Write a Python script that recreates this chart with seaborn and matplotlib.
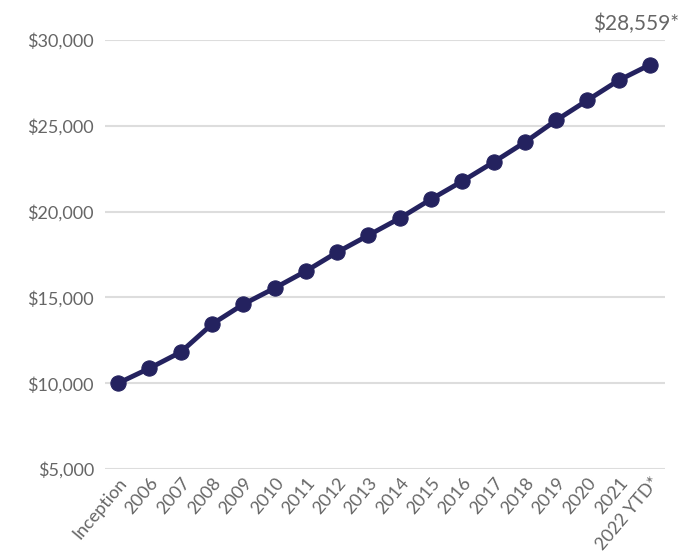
import matplotlib.pyplot as plt
import pandas as pd
import seaborn as sns

# Growth of $10,000 since inception
periods = ["Inception", "2006", "2007", "2008", "2009", "2010", "2011", "2012",
           "2013", "2014", "2015", "2016", "2017", "2018", "2019", "2020",
           "2021", "2022 YTD*"]
values = [10000, 10870, 11810, 13440, 14600, 15540, 16530, 17630, 18620,
          19610, 20720, 21770, 22880, 24040, 25320, 26490, 27650, 28559]
y_ticks = [5000, 10000, 15000, 20000, 25000, 30000]

LINE_COLOR = "#24225f"
TEXT_COLOR = "#666666"

sns.set_style("white")
plt.rcParams["font.family"] = ["Lato", "DejaVu Sans"]

df = pd.DataFrame({"period": periods, "value": values})
df["pos"] = range(len(df))

fig = plt.figure(figsize=(6.8, 5.53), dpi=100)
ax = fig.add_axes([105 / 680, 1 - 469 / 553, 560 / 680, 429 / 553])

sns.lineplot(data=df, x="pos", y="value", ax=ax, color=LINE_COLOR,
             linewidth=3.5, marker="o", markersize=11,
             markeredgecolor=LINE_COLOR, zorder=3)

ax.set_xlim(-0.42, len(df) - 1 + 0.48)
ax.set_ylim(5000, 30000)
ax.set_yticks(y_ticks)
ax.set_yticklabels([f"${v:,.0f}" for v in y_ticks], fontsize=13,
                   color=TEXT_COLOR)
ax.set_xticks(df["pos"])
ax.set_xticklabels(df["period"], rotation=50, ha="right",
                   rotation_mode="anchor", fontsize=13, color=TEXT_COLOR)
ax.tick_params(axis="both", length=0, pad=8)
ax.tick_params(axis="x", pad=4)
ax.set_xlabel("")
ax.set_ylabel("")

ax.yaxis.grid(True, color="#dddddd", linewidth=1.5)
ax.set_axisbelow(True)
for s in ax.spines.values():
    s.set_visible(False)

ax.annotate(f"${values[-1]:,.0f}*", xy=(df["pos"].iloc[-1], values[-1]),
            xytext=(21, 22), textcoords="offset points", ha="right",
            va="bottom", fontsize=15, color=TEXT_COLOR,
            annotation_clip=False)

fig.savefig("out.png", dpi=100)
